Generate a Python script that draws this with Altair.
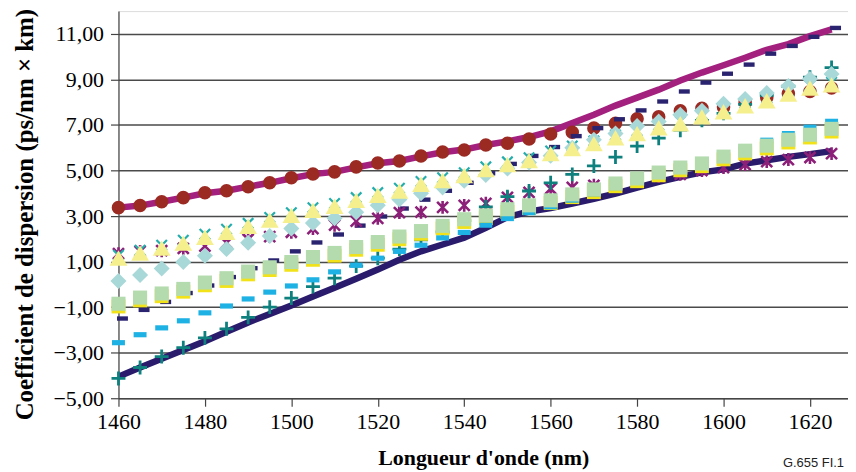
import altair as alt
import pandas as pd

# ---------------- data ----------------
wavelength = [1460, 1465, 1470, 1475, 1480, 1485, 1490, 1495, 1500, 1505, 1510, 1515,
              1520, 1525, 1530, 1535, 1540, 1545, 1550, 1555, 1560, 1565, 1570, 1575,
              1580, 1585, 1590, 1595, 1600, 1605, 1610, 1615, 1620, 1625]

magenta_line = [3.37, 3.46, 3.63, 3.81, 4.00, 4.11, 4.29, 4.46, 4.66, 4.84, 4.94, 5.14,
                5.32, 5.42, 5.62, 5.80, 5.92, 6.12, 6.28, 6.47, 6.72, 7.08, 7.45, 7.85,
                8.20, 8.55, 8.95, 9.30, 9.62, 9.95, 10.30, 10.55, 10.90, 11.20]

navy_line = [-4.05, -3.65, -3.27, -2.88, -2.50, -2.08, -1.67, -1.30, -0.93, -0.53, -0.15, 0.25,
             0.65, 1.08, 1.45, 1.75, 2.05, 2.48, 2.95, 3.20, 3.35, 3.55, 3.76, 3.98,
             4.25, 4.50, 4.72, 4.92, 5.05, 5.30, 5.45, 5.60, 5.72, 5.85]

red_circles = [3.37, 3.46, 3.63, 3.81, 4.02, 4.11, 4.29, 4.46, 4.68, 4.85, 4.94, 5.16,
               5.33, 5.42, 5.64, 5.81, 5.90, 6.12, 6.20, 6.38, 6.60, 6.68, 6.86, 7.07,
               7.27, 7.36, 7.62, 7.73, 7.78, 7.99, 8.20, 8.38, 8.47, 8.62]

navy_dashes = [-1.50, -1.12, -0.77, -0.38, -0.05, 0.32, 0.71, 1.05, 1.45, 1.84, 2.19, 2.58,
               2.98, 3.33, 3.72, 4.11, 4.46, 4.88, 5.29, 5.64, 6.03, 6.51, 6.86, 7.25,
               7.64, 8.03, 8.47, 8.86, 9.25, 9.65, 10.13, 10.47, 10.87, 11.26]

purple_stars = [1.35, 1.45, 1.48, 1.58, 1.68, 1.82, 1.98, 2.10, 2.29, 2.45, 2.60, 2.78,
                2.90, 3.15, 3.17, 3.38, 3.47, 3.56, 3.82, 4.04, 4.20, 4.26, 4.35, 4.43,
                4.52, 4.74, 4.83, 5.00, 5.13, 5.26, 5.39, 5.48, 5.57, 5.74]

teal_plus = [-4.13, -3.65, -3.17, -2.78, -2.35, -1.95, -1.45, -1.00, -0.60, -0.10, 0.27, 0.80,
             1.15, 1.55, 1.95, 2.30, 2.80, 3.40, 3.85, 4.10, 4.46, 4.83, 5.20, 5.59,
             6.07, 6.42, 6.77, 7.20, 7.51, 7.90, 8.30, 8.70, 9.10, 9.52]

yellow_squares = [-0.97, -0.70, -0.52, -0.32, -0.04, 0.15, 0.44, 0.63, 0.86, 1.08, 1.26, 1.52,
                  1.74, 1.98, 2.22, 2.45, 2.74, 2.91, 3.18, 3.35, 3.57, 3.83, 4.05, 4.31,
                  4.53, 4.79, 5.01, 5.19, 5.49, 5.75, 5.97, 6.23, 6.45, 6.71]

light_blue_dashes = [-2.56, -2.21, -1.91, -1.60, -1.25, -0.95, -0.64, -0.34, -0.07, 0.20, 0.55, 0.84,
                     1.15, 1.45, 1.72, 2.04, 2.28, 2.60, 2.89, 3.15, 3.41, 3.70, 3.98, 4.25,
                     4.55, 4.85, 5.15, 5.45, 5.75, 6.03, 6.33, 6.62, 6.90, 7.16]

green_squares = [-0.85, -0.58, -0.40, -0.20, 0.08, 0.27, 0.56, 0.75, 0.98, 1.20, 1.38, 1.64,
                 1.86, 2.10, 2.34, 2.57, 2.86, 3.03, 3.30, 3.47, 3.69, 3.95, 4.17, 4.43,
                 4.65, 4.91, 5.13, 5.31, 5.61, 5.87, 6.09, 6.35, 6.57, 6.83]

teal_x = [1.28, 1.50, 1.72, 1.94, 2.20, 2.42, 2.68, 2.94, 3.15, 3.37, 3.55, 3.81,
          4.03, 4.22, 4.52, 4.68, 4.90, 5.16, 5.38, 5.56, 5.86, 6.08, 6.30, 6.56,
          6.74, 7.00, 7.17, 7.48, 7.70, 7.96, 8.18, 8.48, 8.74, 8.88]

diamonds = [0.15, 0.41, 0.70, 0.98, 1.26, 1.55, 1.83, 2.12, 2.45, 2.69, 2.90, 3.17,
            3.47, 3.73, 4.00, 4.26, 4.55, 4.80, 5.09, 5.35, 5.65, 6.00, 6.35, 6.62,
            6.95, 7.15, 7.45, 7.62, 7.93, 8.14, 8.40, 8.71, 9.02, 9.24]

triangles = [1.16, 1.38, 1.59, 1.81, 2.07, 2.29, 2.55, 2.82, 3.03, 3.25, 3.43, 3.69,
             3.91, 4.10, 4.40, 4.56, 4.78, 5.04, 5.26, 5.44, 5.74, 5.96, 6.18, 6.44,
             6.62, 6.88, 7.05, 7.36, 7.58, 7.84, 8.06, 8.36, 8.62, 8.76]

x_ticks = [1460, 1480, 1500, 1520, 1540, 1560, 1580, 1600, 1620]
y_ticks = [-5, -3, -1, 1, 3, 5, 7, 9, 11]
x_title = "Longueur d'onde (nm)"
y_title = "Coefficient de dispersion (ps/nm × km)"
figure_ref = ["G.655  FI.1"]

series = {
    "magenta_line": magenta_line,
    "navy_line": navy_line,
    "red_circles": red_circles,
    "navy_dashes": navy_dashes,
    "purple_stars": purple_stars,
    "teal_plus": teal_plus,
    "yellow_squares": yellow_squares,
    "light_blue_dashes": light_blue_dashes,
    "green_squares": green_squares,
    "teal_x": teal_x,
    "diamonds": diamonds,
    "triangles": triangles,
}

rows = []
for name, vals in series.items():
    for nm, v in zip(wavelength, vals):
        rows.append({"nm": nm, "value": v, "series": name})
df = pd.DataFrame(rows)

SERIF = "Liberation Serif"

x_enc = alt.X(
    "nm:Q",
    scale=alt.Scale(domain=[1460, 1628.8], nice=False, zero=False),
    axis=alt.Axis(
        values=x_ticks, format="d", grid=False, tickSize=8, tickWidth=1.2,
        tickColor="#444444", domainColor="#444444", domainWidth=1.2,
        labelFont=SERIF, labelFontSize=22, labelColor="black", labelPadding=5,
        labelFlush=False,
        title=x_title, titleFont=SERIF, titleFontSize=22, titleFontWeight="bold",
        titleColor="black", titleY=67, titleBaseline="alphabetic",
    ),
)
y_enc = alt.Y(
    "value:Q",
    scale=alt.Scale(domain=[-5, 12], nice=False, zero=False),
    axis=alt.Axis(
        values=y_ticks, labelExpr="replace(format(datum.value, '.2f'), '.', ',')",
        grid=True, gridColor="#4a4a4a", gridWidth=1.5,
        tickSize=8, tickWidth=1.2, tickColor="#444444",
        domainColor="#444444", domainWidth=1.2,
        labelFont=SERIF, labelFontSize=22, labelColor="black", labelPadding=7,
        labelFlush=False,
        title=y_title, titleFont=SERIF, titleFontSize=25, titleFontWeight="bold",
        titleColor="black", titleX=-94, titleY=204, titleBaseline="middle",
        titleAlign="center",
    ),
)

base = alt.Chart(df)


def sel(name):
    return base.transform_filter(alt.datum.series == name)


DASH = "M-1,-0.4L1,-0.4L1,0.4L-1,0.4Z"
PLUS = "M-1,0L1,0M0,-1L0,1"
STAR = "M-0.85,-0.85L0.85,0.85M-0.85,0.85L0.85,-0.85M0,-1L0,1"
XMARK = "M-1,-1L1,1M-1,1L1,-1"

layers = [
    sel("magenta_line").mark_line(color="#A3207E", strokeWidth=6.5).encode(x=x_enc, y=y_enc),
    sel("navy_line").mark_line(color="#2A1B6C", strokeWidth=6.5).encode(x=x_enc, y=y_enc),
    sel("red_circles").mark_point(shape="circle", filled=True, size=185, color="#9A2A22",
                                  opacity=1).encode(x=x_enc, y=y_enc),
    sel("navy_dashes").mark_point(shape=DASH, filled=True, size=121, color="#2A2370",
                                  opacity=1, xOffset=4).encode(x=x_enc, y=y_enc),
    sel("purple_stars").mark_point(shape=STAR, filled=False, size=169, color="#8C1F78",
                                   strokeWidth=2.6, opacity=1).encode(x=x_enc, y=y_enc),
    sel("teal_plus").mark_point(shape=PLUS, filled=False, size=196, color="#0E807E",
                                strokeWidth=2.8, opacity=1).encode(x=x_enc, y=y_enc),
    sel("yellow_squares").mark_point(shape="square", filled=True, size=196, color="#F1E21A",
                                     opacity=1).encode(x=x_enc, y=y_enc),
    sel("light_blue_dashes").mark_point(shape=DASH, filled=True, size=169, color="#1EB2E4",
                                        opacity=1).encode(x=x_enc, y=y_enc),
    sel("green_squares").mark_point(shape="square", filled=True, size=200, color="#B3DBAE",
                                    opacity=1).encode(x=x_enc, y=y_enc),
    sel("teal_x").mark_point(shape=XMARK, filled=False, size=110, color="#24ADAD",
                             strokeWidth=2.2, opacity=1).encode(x=x_enc, y=y_enc),
    sel("diamonds").mark_point(shape="diamond", filled=True, size=260, color="#A9D8D8",
                               opacity=1).encode(x=x_enc, y=y_enc),
    sel("triangles").mark_point(shape="triangle-up", filled=True, size=320, color="#F6EF8E",
                                opacity=1).encode(x=x_enc, y=y_enc),
]

ref_text = alt.Chart(pd.DataFrame({"t": figure_ref})).mark_text(
    align="right", baseline="alphabetic", font="Liberation Sans", fontSize=13, color="#222222"
).encode(x=alt.value(729), y=alt.value(458), text="t:N")

chart = alt.layer(*layers, ref_text).properties(
    width=733,
    height=389,
    padding={"left": 111, "top": 2, "right": 0, "bottom": 72},
    autosize=alt.AutoSizeParams(type="none"),
).configure_view(
    fill="#C0C0C4", stroke="#8C8C8C", strokeWidth=1.5
).configure(background="white")

chart.save("out.html", embed_options={"renderer": "svg", "actions": False})
